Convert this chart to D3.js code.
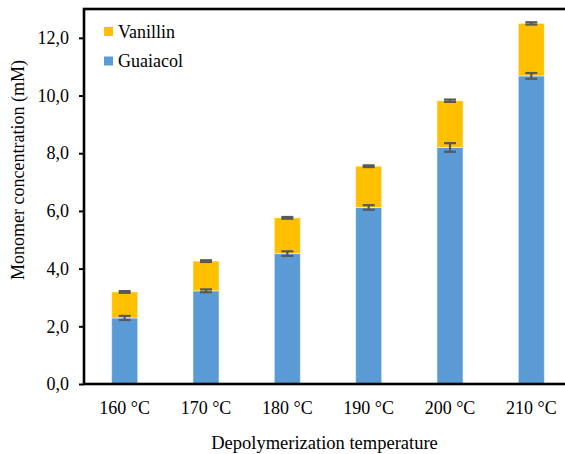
<!DOCTYPE html>
<html>
<head>
<meta charset="utf-8">
<script src="https://cdn.jsdelivr.net/npm/d3@7"></script>
<style>
  html, body { margin: 0; padding: 0; background: #fff; }
  svg { display: block; font-family: "Liberation Serif", "Times New Roman", serif; }
</style>
</head>
<body>
<svg id="chart" width="565" height="454"></svg>
<script>
// Monomer yields per depolymerization temperature (mM)
const categories = ["160 °C", "170 °C", "180 °C", "190 °C", "200 °C", "210 °C"];
const guaiacol = [2.29, 3.23, 4.52, 6.12, 8.20, 10.68];
const vanillin = [0.90, 1.03, 1.24, 1.43, 1.62, 1.82];
const guaiacolErr = [0.07, 0.05, 0.08, 0.08, 0.15, 0.10];
const totalErr = [0.03, 0.03, 0.03, 0.03, 0.04, 0.04];
const yTicks = [0, 2, 4, 6, 8, 10, 12];
const seriesNames = ["Vanillin", "Guaiacol"];
const seriesColors = ["#FFC000", "#5B9BD5"];

const svg = d3.select("#chart");
const margin = { left: 84, top: 9, right: -7, bottom: 70 };
const W = 565 - margin.left - margin.right;
const H = 454 - margin.top - margin.bottom;

const x = d3.scaleBand()
  .domain(categories)
  .range([margin.left, margin.left + W])
  .paddingInner(0.68)
  .paddingOuter(0.34);

const y = d3.scaleLinear()
  .domain([0, 13])
  .range([margin.top + H, margin.top]);

// Stacked layout: guaiacol at the bottom, vanillin on top
const rows = categories.map((c, i) => ({ cat: c, Guaiacol: guaiacol[i], Vanillin: vanillin[i] }));
const stack = d3.stack().keys(["Guaiacol", "Vanillin"])(rows);
const color = d3.scaleOrdinal().domain(seriesNames).range(seriesColors);

const g = svg.append("g");
g.selectAll("g.series")
  .data(stack)
  .join("g")
  .attr("class", "series")
  .attr("fill", d => color(d.key))
  .selectAll("rect")
  .data(d => d)
  .join("rect")
  .attr("x", d => x(d.data.cat))
  .attr("width", x.bandwidth())
  .attr("y", d => y(d[1]))
  .attr("height", d => y(d[0]) - y(d[1]))
  .attr("stroke", "rgba(255,255,255,0.45)")
  .attr("stroke-width", 1);

// Error bars
const errData = [];
categories.forEach((c, i) => {
  errData.push({ cat: c, v: guaiacol[i], e: guaiacolErr[i] });
  errData.push({ cat: c, v: guaiacol[i] + vanillin[i], e: totalErr[i] });
});
const cap = 6;
const eb = g.selectAll("g.err").data(errData).join("g")
  .attr("class", "err")
  .attr("stroke", "#595959")
  .attr("stroke-width", 2.2);
eb.append("line")
  .attr("x1", d => x(d.cat) + x.bandwidth() / 2)
  .attr("x2", d => x(d.cat) + x.bandwidth() / 2)
  .attr("y1", d => y(d.v - d.e))
  .attr("y2", d => y(d.v + d.e));
eb.append("line")
  .attr("x1", d => x(d.cat) + x.bandwidth() / 2 - cap)
  .attr("x2", d => x(d.cat) + x.bandwidth() / 2 + cap)
  .attr("y1", d => y(d.v + d.e))
  .attr("y2", d => y(d.v + d.e));
eb.append("line")
  .attr("x1", d => x(d.cat) + x.bandwidth() / 2 - cap)
  .attr("x2", d => x(d.cat) + x.bandwidth() / 2 + cap)
  .attr("y1", d => y(d.v - d.e))
  .attr("y2", d => y(d.v - d.e));

// Plot frame
svg.append("rect")
  .attr("x", margin.left)
  .attr("y", margin.top)
  .attr("width", W)
  .attr("height", H)
  .attr("fill", "none")
  .attr("stroke", "#000")
  .attr("stroke-width", 2.6);

// Y axis
const yAxis = svg.append("g")
  .attr("transform", `translate(${margin.left},0)`)
  .call(d3.axisLeft(y).tickValues(yTicks).tickSize(5).tickPadding(10)
    .tickFormat(d => d3.format(".1f")(d).replace(".", ",")));
yAxis.select(".domain").remove();
yAxis.selectAll(".tick line").attr("stroke", "#000").attr("stroke-width", 2);
yAxis.selectAll("text").attr("font-size", 18).attr("fill", "#000")
  .style("font-family", "'Liberation Serif', 'Times New Roman', serif");

// X axis
const xAxis = svg.append("g")
  .attr("transform", `translate(0,${margin.top + H})`)
  .call(d3.axisBottom(x).tickSize(0).tickPadding(17));
xAxis.select(".domain").remove();
xAxis.selectAll("text").attr("font-size", 18).attr("fill", "#000")
  .style("font-family", "'Liberation Serif', 'Times New Roman', serif");

// Axis titles
svg.append("text")
  .attr("x", 324.5)
  .attr("y", 449)
  .attr("text-anchor", "middle")
  .attr("font-size", 18.5)
  .text("Depolymerization temperature");

svg.append("text")
  .attr("transform", "translate(24,170) rotate(-90)")
  .attr("text-anchor", "middle")
  .attr("font-size", 18)
  .text("Monomer concentration (mM)");

// Legend
const legend = svg.append("g").attr("transform", "translate(104,27)");
const li = legend.selectAll("g").data(seriesNames).join("g")
  .attr("transform", (d, i) => `translate(0,${i * 29.5})`);
li.append("rect").attr("width", 9).attr("height", 9).attr("fill", d => color(d));
li.append("text").attr("x", 14).attr("y", 10.5).attr("font-size", 18).text(d => d);
</script>
</body>
</html>
